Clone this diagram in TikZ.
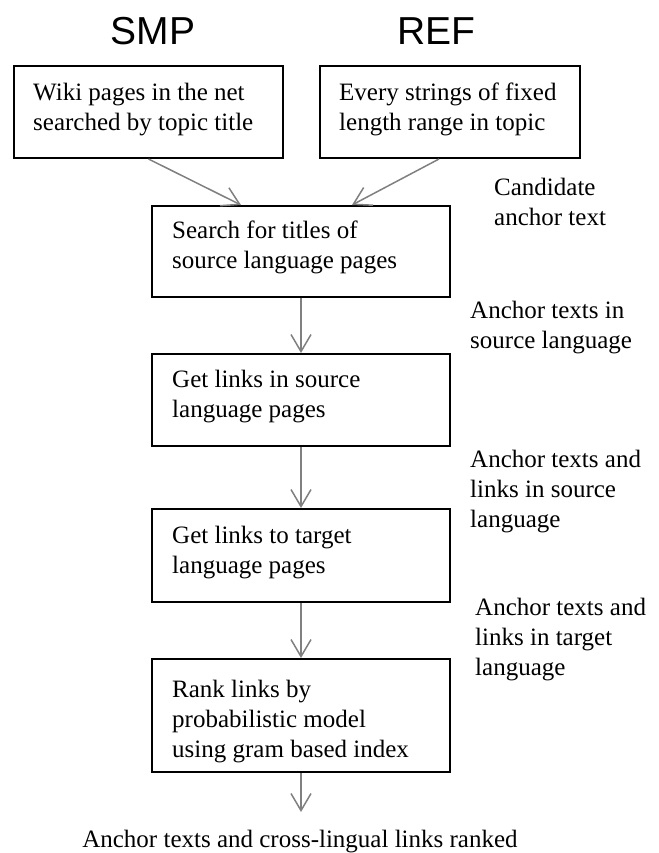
\documentclass[tikz,border=0pt]{standalone}
\usepackage{fontspec}
\setmainfont{Liberation Serif}
\newfontfamily\headfont{Liberation Sans}
\usetikzlibrary{arrows.meta,calc}
\definecolor{arrgray}{HTML}{808080}
\tikzset{
  box/.style n args={2}{draw=black, line width=2pt, minimum width=#1, minimum height=#2, inner sep=0pt},
  txt/.style={font=\fontsize{25}{30}\selectfont, align=left, anchor=north west, inner sep=0pt},
  head/.style={font=\headfont\fontsize{39}{44}\selectfont, anchor=base, inner sep=0pt},
  arr/.style={draw=arrgray, line width=1.5pt, -{Straight Barb[length=17pt,width=20pt,line width=1.5pt]}}
}
\begin{document}
\begin{tikzpicture}[x=1pt,y=-1pt]
\useasboundingbox[fill=white] (0,0) rectangle (658,853);
% headings
\node[head] (smp) at (153,45) {SMP};
\node[head] (ref) at (436,45) {REF};
% boxes
\node[box={269pt}{92pt}] (b1) at (148.5,112) {};
\node[box={260pt}{92pt}] (b2) at (450,112) {};
\node[box={298pt}{91pt}] (b3) at (301,251.5) {};
\node[box={298pt}{92pt}] (b4) at (301,400) {};
\node[box={298pt}{93pt}] (b5) at (301,555.5) {};
\node[box={298pt}{113pt}] (b6) at (301,715.5) {};
% box texts
\node[txt] (t1) at (33,82.5) {Wiki pages in the net\\searched by topic title};
\node[txt] (t2) at (339,82.5) {Every strings of fixed\\length range in topic};
\node[txt] (t3) at (172,220.5) {Search for titles of\\source language pages};
\node[txt] (t4) at (172,370) {Get links in source\\language pages};
\node[txt] (t5) at (172,526) {Get links to target\\language pages};
\node[txt] (t6) at (172,680) {Rank links by\\probabilistic model\\using gram based index};
% side labels
\node[txt] (l1) at (494,178) {Candidate\\anchor text};
\node[txt] (l2) at (470,301) {Anchor texts in\\source language};
\node[txt] (l3) at (470,450) {Anchor texts and\\links in source\\language};
\node[txt] (l4) at (475,598) {Anchor texts and\\links in target\\language};
\node[font=\fontsize{25}{30}\selectfont, anchor=base, inner sep=0pt] (out) at (300,847) {Anchor texts and cross-lingual links ranked};
\coordinate (end) at (301,812);
% connectors
\draw[arr] (b1.south) -- ([xshift=-60pt]b3.north);
\draw[arr] ([xshift=-11pt]b2.south) -- ([xshift=51pt]b3.north);
\draw[arr] (b3.south) -- (b4.north);
\draw[arr] (b4.south) -- (b5.north);
\draw[arr] (b5.south) -- (b6.north);
\draw[arr] (b6.south) -- (end);
\end{tikzpicture}
\end{document}
